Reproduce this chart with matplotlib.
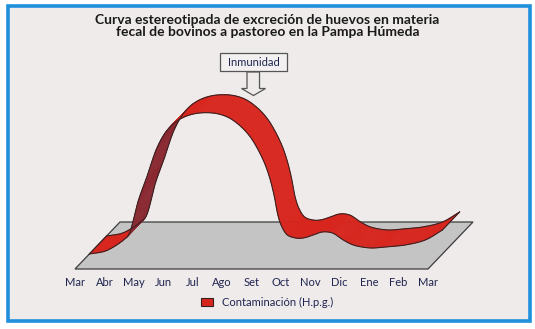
import numpy as np
import matplotlib
matplotlib.use("Agg")
import matplotlib.pyplot as plt
from matplotlib.patches import Polygon, Rectangle, Patch

plt.rcParams['font.family'] = ['Lato', 'DejaVu Sans']

# ---- data -------------------------------------------------------------
meses = ["Mar", "Abr", "May", "Jun", "Jul", "Ago", "Set",
         "Oct", "Nov", "Dic", "Ene", "Feb", "Mar"]

# time in months from March (0) to next March (12) and egg count level
t_mes = [0.0, 0.50, 0.82, 1.16, 1.33, 1.67, 1.94, 2.31, 2.65, 3.03,
         3.54, 4.18, 4.69, 5.13, 5.47, 5.74, 5.98, 6.15, 6.29, 6.39,
         6.53, 6.73, 7.00, 7.27, 7.61, 7.92, 8.26, 8.63, 8.97,
         9.55, 10.06, 10.74, 11.42, 12.0]
hpg = [0, 2.5, 7, 14, 19, 54, 76, 107, 124, 134,
       140, 141, 137, 128, 117, 104, 89, 74, 57, 41,
       28, 19, 16, 16, 19, 22, 21, 14, 9,
       6, 7, 9, 14, 24]

titulo = ("Curva estereotipada de excreción de huevos en materia\n"
          "fecal de bovinos a pastoreo en la Pampa Húmeda")
serie = "Contaminación (H.p.g.)"
anotacion = "Inmunidad"

# ---- styling ------------------------------------------------------------
ROJO = "#D8261E"
ROJO_OSC = "#8A2831"
PISO = "#C4C4C4"
BORDE = "#3A2222"
FONDO = "#EEEBEA"
AZUL = "#1E90DC"
TXT = "#1F2450"

W, H = 535, 329
fig = plt.figure(figsize=(W / 100, H / 100), dpi=100)
fig.patch.set_facecolor("white")


def fx(px):
    return px / W


def fy(py):
    return 1 - py / H


marco = Rectangle((fx(7.5), fy(321)), fx(529.6) - fx(7.5), fy(5.5) - fy(321),
                  transform=fig.transFigure, facecolor=FONDO,
                  edgecolor=AZUL, linewidth=2.6, zorder=-5)
fig.add_artist(marco)

ax = fig.add_axes([0, 0, 1, 1])
ax.set_axis_off()
ax.patch.set_alpha(0)

s = 353 / 12.0          # pixels per month
ax.set_xlim(-75 / s, (W - 75) / s)
ax.set_ylim(-(H - 269), 269)

# oblique depth direction of the floor (in data units)
DX, DY = 45 / s, 47.0
f0, f1 = 0.32, 0.703    # depth of the ribbon front and back edges

# floor
piso = Polygon([(0, 0), (12, 0), (12 + DX, DY), (DX, DY)], closed=True,
               facecolor=PISO, edgecolor="#3C3C3C", linewidth=0.9, zorder=1)
ax.add_patch(piso)


# smooth curve through the data (centripetal Catmull-Rom, in pixel space)
def catmull_rom(px, py, n=14, alpha=0.5):
    P = np.column_stack([px, py]).astype(float)
    P = np.vstack([2 * P[0] - P[1], P, 2 * P[-1] - P[-2]])
    out = []
    for i in range(1, len(P) - 2):
        p0, p1, p2, p3 = P[i - 1], P[i], P[i + 1], P[i + 2]
        t0 = 0.0
        t1 = t0 + np.linalg.norm(p1 - p0) ** alpha
        t2 = t1 + np.linalg.norm(p2 - p1) ** alpha
        t3 = t2 + np.linalg.norm(p3 - p2) ** alpha
        tt = np.linspace(t1, t2, n, endpoint=False)[:, None]
        a1 = (t1 - tt) / (t1 - t0) * p0 + (tt - t0) / (t1 - t0) * p1
        a2 = (t2 - tt) / (t2 - t1) * p1 + (tt - t1) / (t2 - t1) * p2
        a3 = (t3 - tt) / (t3 - t2) * p2 + (tt - t2) / (t3 - t2) * p3
        b1 = (t2 - tt) / (t2 - t0) * a1 + (tt - t0) / (t2 - t0) * a2
        b2 = (t3 - tt) / (t3 - t1) * a2 + (tt - t1) / (t3 - t1) * a3
        c = (t2 - tt) / (t2 - t1) * b1 + (tt - t1) / (t2 - t1) * b2
        out.append(c)
    out.append(P[-2][None, :])
    return np.vstack(out)


xm = np.asarray(t_mes) + f0 * DX
yv = np.asarray(hpg, dtype=float) + f0 * DY
curva = catmull_rom(xm * s, yv)
fx_d = curva[:, 0] / s          # front edge, data units
fy_d = curva[:, 1]
ddx, ddy = (f1 - f0) * DX, (f1 - f0) * DY
bx_d, by_d = fx_d + ddx, fy_d + ddy   # back edge

# ribbon faces, drawn segment by segment
for k in range(len(fx_d) - 1):
    tx = (fx_d[k + 1] - fx_d[k]) * s
    ty = fy_d[k + 1] - fy_d[k]
    cruz = tx * ddy - ty * (ddx * s)
    color = ROJO if cruz >= 0 else ROJO_OSC
    quad = [(fx_d[k], fy_d[k]), (fx_d[k + 1], fy_d[k + 1]),
            (bx_d[k + 1], by_d[k + 1]), (bx_d[k], by_d[k])]
    ax.add_patch(Polygon(quad, closed=True, facecolor=color,
                         edgecolor=color, linewidth=0.4, zorder=2))

# ribbon outlines
ax.plot(fx_d, fy_d, color=BORDE, lw=0.8, zorder=3, solid_capstyle="round")
ax.plot(bx_d, by_d, color=BORDE, lw=0.8, zorder=3, solid_capstyle="round")
for k in (0, -1):
    ax.plot([fx_d[k], bx_d[k]], [fy_d[k], by_d[k]], color=BORDE, lw=0.8,
            zorder=3)

# month labels along the front edge of the floor
for i, m in enumerate(meses):
    ax.text(i, -14, m, ha="center", va="center", fontsize=8, color=TXT)

# title
fig.text(0.5, fy(26), titulo, ha="center", va="center", fontsize=10,
         fontweight="bold", color="#1A1A1A", linespacing=1.05)

# immunity callout with a hollow arrow
caja = Rectangle((fx(220), fy(71)), fx(287) - fx(220), fy(53) - fy(71),
                 transform=fig.transFigure, facecolor="#F2F0F0",
                 edgecolor="#555555", linewidth=0.9, zorder=5)
fig.add_artist(caja)
fig.text(fx(253.5), fy(62.5), anotacion, ha="center", va="center",
         fontsize=8, color=TXT, zorder=6)
flecha_px = [(247, 72), (259.5, 72), (259.5, 88.5), (265.5, 88.5),
             (253.5, 95.5), (241.5, 88.5), (247, 88.5)]
flecha = Polygon([(fx(a), fy(b)) for a, b in flecha_px], closed=True,
                 transform=fig.transFigure, facecolor=FONDO,
                 edgecolor="#555555", linewidth=0.9, zorder=5)
fig.add_artist(flecha)

# legend
ax.legend(handles=[Patch(facecolor=ROJO, edgecolor=BORDE, linewidth=0.8,
                         label=serie)],
          loc="center left", bbox_to_anchor=(fx(201), fy(302.5)),
          bbox_transform=fig.transFigure, frameon=False, fontsize=8,
          handlelength=1.1, handleheight=0.8, handletextpad=0.8,
          borderpad=0, borderaxespad=0, labelcolor=TXT)

fig.savefig("out.png", dpi=100, facecolor=fig.get_facecolor())
